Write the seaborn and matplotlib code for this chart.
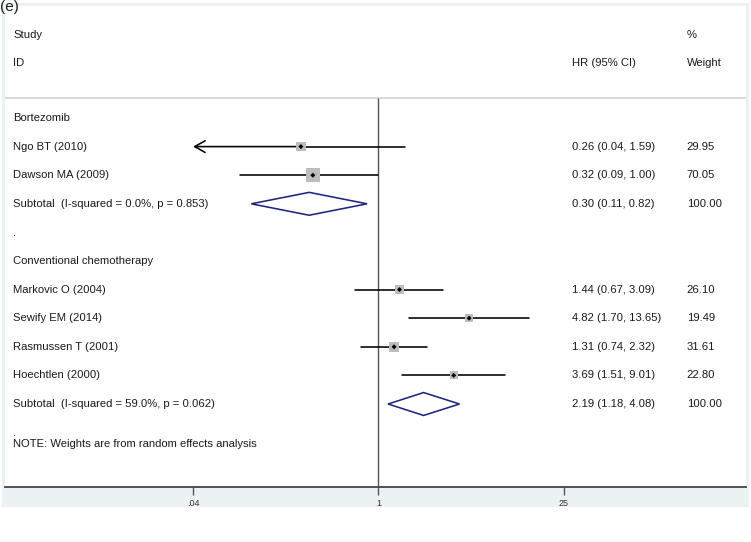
import numpy as np
import pandas as pd
import matplotlib
matplotlib.use('Agg')
import matplotlib.pyplot as plt
import seaborn as sns
from matplotlib.patches import Rectangle
from matplotlib.ticker import NullLocator

# Study-level data
groups = ["Bortezomib", "Conventional chemotherapy"]
studies = ["Ngo BT (2010)", "Dawson MA (2009)",
           "Markovic O (2004)", "Sewify EM (2014)", "Rasmussen T (2001)", "Hoechtlen (2000)"]
study_group = [0, 0, 1, 1, 1, 1]
hr = [0.26, 0.32, 1.44, 4.82, 1.31, 3.69]
ci_lo = [0.04, 0.09, 0.67, 1.70, 0.74, 1.51]
ci_hi = [1.59, 1.00, 3.09, 13.65, 2.32, 9.01]
hr_text = ["0.26 (0.04, 1.59)", "0.32 (0.09, 1.00)", "1.44 (0.67, 3.09)",
           "4.82 (1.70, 13.65)", "1.31 (0.74, 2.32)", "3.69 (1.51, 9.01)"]
weight = [29.95, 70.05, 26.10, 19.49, 31.61, 22.80]
weight_text = ["29.95", "70.05", "26.10", "19.49", "31.61", "22.80"]

# Subgroup pooled estimates
sub_labels = ["Subtotal  (I-squared = 0.0%, p = 0.853)",
              "Subtotal  (I-squared = 59.0%, p = 0.062)"]
sub_hr = [0.30, 2.19]
sub_lo = [0.11, 1.18]
sub_hi = [0.82, 4.08]
sub_hr_text = ["0.30 (0.11, 0.82)", "2.19 (1.18, 4.08)"]
sub_weight_text = ["100.00", "100.00"]

x_ticks = [0.04, 1, 25]
x_ticklabels = [".04", "1", "25"]
x_clip = 0.04  # lower end of the drawn range, CIs beyond it get an arrow

sns.set_theme(style="white")
plt.rcParams['font.family'] = ['Liberation Sans', 'DejaVu Sans']

# row layout: group header, its studies, subtotal, blank "." row
y = 0
study_y, group_y, sub_y, dot_y = [], [], [], []
for g in range(len(groups)):
    group_y.append(y)
    y += 1
    for i, sg in enumerate(study_group):
        if sg == g:
            study_y.append(y)
            y += 1
    sub_y.append(y)
    y += 1
    dot_y.append(y)
    y += 1

df = pd.DataFrame({"study": studies, "hr": hr, "lo": ci_lo, "hi": ci_hi,
                   "weight": weight, "y": study_y})

fig = plt.figure(figsize=(7.51, 5.42), dpi=100)
# light outer graph region
bg = Rectangle((2 / 751, 35 / 542), 747 / 751, 504 / 542,
               transform=fig.transFigure, facecolor='#eaf2f3',
               edgecolor='none', zorder=-5)
fig.add_artist(bg)
ax = fig.add_axes([5 / 751, 55 / 542, 741 / 751, 481 / 542])
ax.set_zorder(1)
ax.set_facecolor('white')

ax.set_xscale('log')
ax.set_xlim(np.exp(-6.484), np.exp(6.38))
ybot, ytop = 12.902, -3.916
ax.set_ylim(ybot, ytop)

navy = '#1c2683'
ink = '#1a1a1a'
fs = 8.1
tx = ax.get_yaxis_transform()
col_label, col_hr, col_w = 0.0108, 0.765, 0.920

# header
ax.text(col_label, -2.9, "Study", transform=tx, fontsize=fs, va='center', color=ink)
ax.text(col_label, -1.92, "ID", transform=tx, fontsize=fs, va='center', color=ink)
ax.text(col_hr, -1.92, "HR (95% CI)", transform=tx, fontsize=fs, va='center', color=ink)
ax.text(col_w, -2.9, "%", transform=tx, fontsize=fs, va='center', color=ink)
ax.text(col_w, -1.92, "Weight", transform=tx, fontsize=fs, va='center', color=ink)
ax.axhline(-0.71, color='#d2d2d2', lw=1.2, zorder=1)

# null line
ax.vlines(1, -0.71, ybot, color='#555555', lw=1.0, zorder=1)

# confidence intervals
for _, r in df.iterrows():
    if r['lo'] <= x_clip:
        ax.plot([r['hr'], r['hi']], [r['y'], r['y']], color='black', lw=1.15, zorder=2)
        ax.annotate("", xy=(x_clip, r['y']), xytext=(r['hr'], r['y']),
                    arrowprops=dict(arrowstyle="->,head_length=0.75,head_width=0.42",
                                    color='black', lw=1.15, mutation_scale=10,
                                    shrinkA=0, shrinkB=0), zorder=2)
    else:
        ax.plot([r['lo'], r['hi']], [r['y'], r['y']], color='black', lw=1.15, zorder=2)

# weight boxes and point estimates
sns.scatterplot(data=df, x='hr', y='y', size='weight', sizes=(0, 150),
                size_norm=(0, 100), marker='s', color='#bdbdbd', edgecolor='none',
                linewidth=0, legend=False, ax=ax, zorder=3)
sns.scatterplot(data=df, x='hr', y='y', marker='D', s=6.5, color='black',
                edgecolor='none', linewidth=0, legend=False, ax=ax, zorder=4)

# subtotal diamonds
for k in range(len(sub_hr)):
    yy = sub_y[k]
    ax.fill([sub_lo[k], sub_hr[k], sub_hi[k], sub_hr[k]],
            [yy, yy - 0.4, yy, yy + 0.4],
            facecolor='none', edgecolor=navy, lw=1.15, zorder=3)

# text columns
for g in range(len(groups)):
    ax.text(col_label, group_y[g], groups[g], transform=tx, fontsize=fs, va='center', color=ink)
    ax.text(col_label, sub_y[g], sub_labels[g], transform=tx, fontsize=fs, va='center', color=ink)
    ax.text(col_hr, sub_y[g], sub_hr_text[g], transform=tx, fontsize=fs, va='center', color=ink)
    ax.text(col_w, sub_y[g], sub_weight_text[g], transform=tx, fontsize=fs, va='center', color=ink)
    ax.text(col_label, dot_y[g] + 0.02, ".", transform=tx, fontsize=fs, va='center', color=ink)
for i in range(len(studies)):
    ax.text(col_label, study_y[i], studies[i], transform=tx, fontsize=fs, va='center', color=ink)
    ax.text(col_hr, study_y[i], hr_text[i], transform=tx, fontsize=fs, va='center', color=ink)
    ax.text(col_w, study_y[i], weight_text[i], transform=tx, fontsize=fs, va='center', color=ink)
ax.text(col_label, dot_y[-1] + 0.4, "NOTE: Weights are from random effects analysis",
        transform=tx, fontsize=fs, va='center', color=ink)

# axis styling
for s in ['top', 'right', 'left']:
    ax.spines[s].set_visible(False)
ax.spines['bottom'].set_color('#444444')
ax.spines['bottom'].set_linewidth(1.3)
ax.set_xticks(x_ticks)
ax.set_xticklabels(x_ticklabels)
ax.xaxis.set_minor_locator(NullLocator())
ax.tick_params(axis='x', direction='out', length=5.5, width=1.0, color='#555555',
               pad=3, labelsize=6.5, labelcolor='#333333', bottom=True)
ax.set_yticks([])
ax.set_xlabel('')
ax.set_ylabel('')

fig.text(0.0, 1.0, "(e)", ha='left', va='top', fontsize=11, zorder=5, color=ink)

fig.savefig('out.png', dpi=100, facecolor='white')
